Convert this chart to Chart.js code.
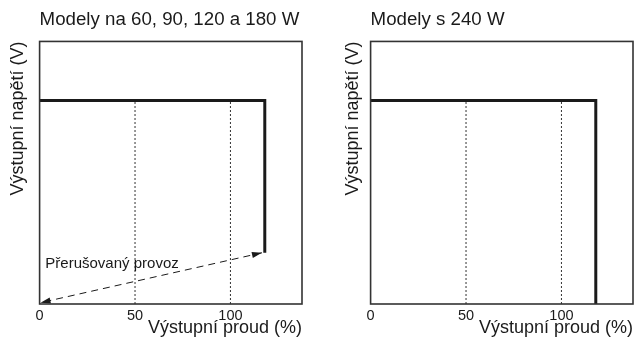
<!DOCTYPE html>
<html>
<head>
<meta charset="utf-8">
<script src="https://cdn.jsdelivr.net/npm/chart.js@4/dist/chart.umd.min.js"></script>
<style>
  body { margin: 0; background: #fff; }
  #wrap { position: relative; width: 638px; height: 339px; }
  .box { position: absolute; top: 0; height: 339px; }
</style>
</head>
<body>
<div id="wrap">
  <div class="box" style="left:0;width:312px"><canvas id="left" width="312" height="339"></canvas></div>
  <div class="box" style="left:326px;width:312px"><canvas id="right" width="312" height="339"></canvas></div>
</div>
<script>
// axis ranges / ticks
const xTicks = [0, 50, 100];
const xMax = 137.5;
const yMax = 100;

// characteristic curves (output current %, output voltage relative)
const leftCurveX = [0, 118, 118];
const leftCurveY = [77.5, 77.5, 19.5];
const rightCurveX = [0, 118, 118];
const rightCurveY = [77.5, 77.5, 0];

// dotted reference lines at 50 % and 100 %
const refX = [50, 100];
const refTop = 77.5;

// intermittent operation arrow (left chart only)
const arrowX = [116.5, 0.5];
const arrowY = [19.5, 0.5];
const arrowLabel = 'Přerušovaný provoz';
const arrowLabelAt = { x: 3, y: 15.4 };

const titles = ['Modely na 60, 90, 120 a 180 W', 'Modely s 240 W'];
const yTitle = 'Výstupní napětí (V)';
const xTitle = 'Výstupní proud (%)';

const FONT = '"Liberation Sans", Arial, sans-serif';
Chart.defaults.font.family = FONT;
Chart.defaults.color = '#1a1a1a';

function pts(xs, ys) {
  return xs.map((x, i) => ({ x: x, y: ys[i] }));
}

const frame = {
  id: 'frame',
  afterDraw(chart) {
    const a = chart.chartArea, ctx = chart.ctx;
    ctx.save();
    ctx.strokeStyle = '#333';
    ctx.lineWidth = 1.6;
    ctx.strokeRect(a.left, a.top, a.right - a.left, a.bottom - a.top);
    ctx.restore();
  }
};

const arrows = {
  id: 'arrows',
  afterDatasetsDraw(chart) {
    const ctx = chart.ctx;
    const xs = chart.scales.x, ys = chart.scales.y;
    chart.data.datasets.forEach(ds => {
      if (!ds.arrows) return;
      const p = ds.data.map(d => ({ x: xs.getPixelForValue(d.x), y: ys.getPixelForValue(d.y) }));
      const head = (tip, from) => {
        const ang = Math.atan2(tip.y - from.y, tip.x - from.x);
        const L = 10, W = 3;
        ctx.beginPath();
        ctx.moveTo(tip.x, tip.y);
        ctx.lineTo(tip.x - L * Math.cos(ang) + W * Math.sin(ang), tip.y - L * Math.sin(ang) - W * Math.cos(ang));
        ctx.lineTo(tip.x - L * Math.cos(ang) - W * Math.sin(ang), tip.y - L * Math.sin(ang) + W * Math.cos(ang));
        ctx.closePath();
        ctx.fill();
      };
      ctx.save();
      ctx.fillStyle = '#1a1a1a';
      head(p[0], p[1]);
      head(p[p.length - 1], p[p.length - 2]);
      if (ds.label) {
        ctx.font = '15px ' + FONT;
        ctx.textBaseline = 'middle';
        ctx.fillText(ds.label, xs.getPixelForValue(arrowLabelAt.x), ys.getPixelForValue(arrowLabelAt.y));
      }
      ctx.restore();
    });
  }
};

function makeChart(id, title, curveX, curveY, withArrow, pad, yTitlePad) {
  const datasets = [{
    data: pts(curveX, curveY),
    borderColor: '#1a1a1a',
    borderWidth: 3,
    borderJoinStyle: 'miter',
    showLine: true,
    pointRadius: 0
  }];
  refX.forEach(x => datasets.push({
    data: pts([x, x], [0, refTop]),
    borderColor: '#333',
    borderWidth: 1,
    borderDash: [2, 2],
    showLine: true,
    pointRadius: 0
  }));
  if (withArrow) {
    datasets.push({
      label: arrowLabel,
      arrows: true,
      data: pts(arrowX, arrowY),
      borderColor: '#1a1a1a',
      borderWidth: 1,
      borderDash: [7, 5],
      showLine: true,
      pointRadius: 0
    });
  }
  return new Chart(document.getElementById(id), {
    type: 'scatter',
    data: { datasets },
    options: {
      responsive: false,
      animation: false,
      layout: { padding: pad },
      plugins: {
        legend: { display: false },
        tooltip: { enabled: false },
        title: {
          display: true,
          text: title,
          align: 'start',
          fullSize: false,
          font: { size: 18.7, weight: 'normal' },
          color: '#1a1a1a',
          padding: { top: 2, bottom: 10 }
        }
      },
      scales: {
        x: {
          type: 'linear',
          min: 0,
          max: xMax,
          afterBuildTicks: s => { s.ticks = xTicks.map(v => ({ value: v })); },
          grid: { display: false, drawTicks: false },
          border: { display: false },
          ticks: { font: { size: 14.5 }, color: '#1a1a1a', padding: 3, maxRotation: 0 },
          title: { display: true, text: xTitle, align: 'end', font: { size: 18 }, color: '#1a1a1a', padding: { top: -10, bottom: 0 } }
        },
        y: {
          type: 'linear',
          min: 0,
          max: yMax,
          grid: { display: false, drawTicks: false },
          border: { display: false },
          ticks: { display: false },
          title: { display: true, text: yTitle, align: 'end', font: { size: 18 }, color: '#1a1a1a', padding: { top: 0, bottom: yTitlePad } }
        }
      }
    },
    plugins: [frame, arrows]
  });
}

makeChart('left', titles[0], leftCurveX, leftCurveY, true, { left: 7, right: 10, top: 7, bottom: 0 }, 11);
makeChart('right', titles[1], rightCurveX, rightCurveY, false, { left: 16, right: 5, top: 7, bottom: 0 }, 7);
</script>
</body>
</html>
